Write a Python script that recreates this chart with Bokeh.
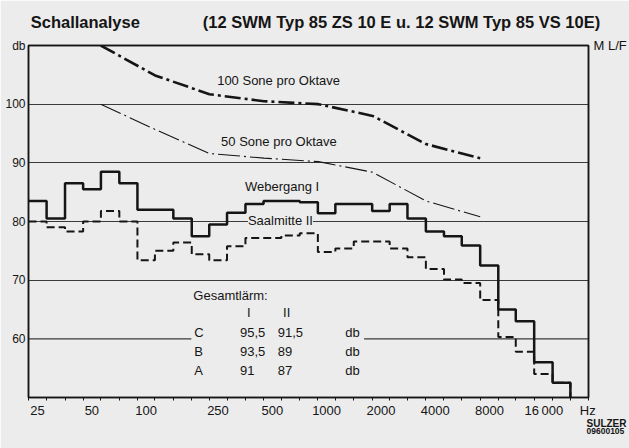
from bokeh.plotting import figure
from bokeh.models import FixedTicker, Label, Range1d, LogAxis, LinearAxis, Title
from bokeh.embed import file_html
from bokeh.resources import INLINE

# ---------------- data ----------------
bands = [25, 31.5, 40, 50, 63, 80, 100, 125, 160, 200, 250, 315, 400, 500, 630, 800,
         1000, 1250, 1600, 2000, 2500, 3150, 4000, 5000, 6300, 8000, 10000, 12500, 16000, 20000]
webergang = [83.5, 80.5, 86.5, 85.5, 88.5, 86.5, 82.0, 82.0, 80.5, 77.5, 79.5, 81.5, 83.0, 83.5, 83.5, 83.3,
             81.4, 83.0, 83.0, 81.8, 83.0, 80.5, 78.3, 77.5, 75.9, 72.5, 65.0, 63.0, 56.0, 52.5]
saalmitte = [80.0, 79.0, 78.3, 80.0, 81.8, 80.0, 73.4, 75.0, 76.4, 74.4, 73.4, 75.8, 77.2, 77.2, 77.6, 78.0,
             74.8, 75.4, 76.6, 76.6, 75.4, 73.9, 71.9, 70.1, 69.5, 66.6, 60.3, 57.8, 54.0, 52.5]

sone_hz = [56, 112, 224, 450, 900, 1800, 3550, 7100]
sone100 = [110.0, 104.9, 101.7, 100.5, 100.0, 98.0, 93.2, 90.8]
sone50 = [100.0, 95.7, 91.6, 90.8, 90.2, 88.4, 83.5, 80.8]

tick_hz = [25, 50, 100, 250, 500, 1000, 2000, 4000, 8000, 16000]
tick_text = ["25", "50", "100", "250", "500", "1000", "2000", "4000", "8000", "16\u2009000"]
db_ticks = [60, 70, 80, 90, 100]

title_left = "Schallanalyse"
title_right = "(12 SWM Typ 85 ZS 10 E u. 12 SWM Typ 85 VS 10E)"

gl_rows = ["C", "B", "A"]
gl_I = ["95,5", "93,5", "91"]
gl_II = ["91,5", "89", "87"]

# ---------------- figure ----------------
FONT = "Liberation Sans"
INK = "#151515"
BG = "#ececec"

xr0 = bands[0] * 2 ** (-1 / 6)
xr1 = bands[-1] * 2 ** (1 / 6) * 2 ** (1 / 3)
yr0, yr1 = 50, 110

p = figure(width=629, height=448, x_axis_type="log",
           x_range=Range1d(xr0, xr1), y_range=Range1d(yr0, yr1),
           output_backend="svg", toolbar_location=None,
           min_border_left=28, min_border_right=37, min_border_top=45, min_border_bottom=51)
p.background_fill_color = BG
p.border_fill_color = BG
p.outline_line_color = INK
p.outline_line_width = 1.5


def X(px):
    return xr0 * (xr1 / xr0) ** ((px - 28.0) / 564.0)


def Y(py):
    return 110.0 - (py - 45.0) * 60.0 / 352.0


# bottom axis
edges = [bands[0] * 2 ** (-1 / 6)] + [(bands[i] * bands[i + 1]) ** 0.5 for i in range(len(bands) - 1)] \
        + [bands[-1] * 2 ** (1 / 6), xr1]
hz_pos = 28000
p.xaxis.ticker = FixedTicker(ticks=tick_hz + [hz_pos], minor_ticks=edges)
ov = {t: s for t, s in zip(tick_hz, tick_text)}
ov[hz_pos] = "Hz"
p.xaxis.major_label_overrides = ov
p.xaxis.major_tick_out = 0
p.xaxis.major_tick_in = 0
p.xaxis.minor_tick_out = 3
p.xaxis.minor_tick_in = 0
p.xaxis.minor_tick_line_color = INK
p.xaxis.major_label_standoff = 2
p.xaxis.major_label_text_font = FONT
p.xaxis.major_label_text_font_size = "13px"
p.xaxis.major_label_text_color = INK
p.xaxis.axis_line_color = INK
p.xaxis.axis_line_width = 1.5

# left axis (the "db" unit sits at the top tick)
p.yaxis.ticker = FixedTicker(ticks=db_ticks + [yr1], minor_ticks=[])
p.yaxis.major_label_overrides = {yr1: "db"}
p.yaxis.major_tick_out = 0
p.yaxis.major_tick_in = 0
p.yaxis.major_label_standoff = 3
p.yaxis.major_label_text_font = FONT
p.yaxis.major_label_text_font_size = "12px"
p.yaxis.major_label_text_color = INK
p.yaxis.axis_line_color = INK
p.yaxis.axis_line_width = 1.5

# top axis carries the heading
t_left, t_right = 46, 2600
top = LogAxis(ticker=FixedTicker(ticks=[t_left, t_right], minor_ticks=[]),
              major_label_overrides={t_left: title_left, t_right: title_right},
              major_tick_out=0, major_tick_in=0, major_label_standoff=15,
              major_label_text_font=FONT, major_label_text_font_size="16.5px",
              major_label_text_font_style="bold", major_label_text_color=INK,
              axis_line_color=INK, axis_line_width=1.5)
p.add_layout(top, "above")

# right axis: frame edge and the "M L/F" mark
right = LinearAxis(ticker=FixedTicker(ticks=[yr1], minor_ticks=[]),
                   major_label_overrides={yr1: "M L/F"},
                   major_tick_out=0, major_tick_in=0, major_label_standoff=5,
                   major_label_text_font=FONT, major_label_text_font_size="13px",
                   major_label_text_color=INK, axis_line_color=INK, axis_line_width=1.5)
p.add_layout(right, "right")

# maker's mark below the axis
for txt, size, so in [("SULZER", "10px", -10), ("09600105", "8.5px", 4)]:
    p.add_layout(Title(text=txt, align="left", offset=558, standoff=so, text_font=FONT,
                       text_font_size=size, text_font_style="bold", text_color=INK), "below")

p.xgrid.visible = False
p.ygrid.ticker = FixedTicker(ticks=[t for t in db_ticks if t != 60])
p.ygrid.grid_line_color = "#3a3a3a"
p.ygrid.grid_line_width = 1.2

# 60 dB grid line, interrupted by the Gesamtlärm table
p.segment(x0=[xr0, X(366)], y0=[60, 60], x1=[X(192), xr1], y1=[60, 60],
          line_color="#3a3a3a", line_width=1.2)


def step_path(values):
    xs, ys = [], []
    for i, v in enumerate(values):
        xs += [edges[i], edges[i + 1]]
        ys += [v, v]
    xs.append(edges[len(values)])
    ys.append(yr0)
    return xs, ys


sx, sy = step_path(saalmitte)
p.line(sx, sy, line_color=INK, line_width=2.0, line_dash="8 4")
wx, wy = step_path(webergang)
p.line(wx, wy, line_color=INK, line_width=2.5)

p.line(sone_hz, sone100, line_color=INK, line_width=2.6, line_dash="16 4 3 4")
p.line(sone_hz, sone50, line_color=INK, line_width=1.1, line_dash="22 4 2 4")


def lab(px, py, text, size="13px", align="left", bg=None):
    kw = dict(x=X(px), y=Y(py), text=text, text_font=FONT, text_font_size=size,
              text_color=INK, text_align=align, text_baseline="middle")
    if bg is not None:
        kw["background_fill_color"] = bg
    p.add_layout(Label(**kw))


lab(218, 80, "100 Sone pro Oktave")
lab(222, 141, "50 Sone pro Oktave")
lab(246, 186, "Webergang I")
lab(249, 220, "Saalmitte II", bg=BG)

lab(194, 295, "Gesamtlärm:")
lab(250, 312, "I", align="center")
lab(288, 312, "II", align="center")
for k, (r, a, b) in enumerate(zip(gl_rows, gl_I, gl_II)):
    yy = 332 + 19 * k
    lab(195, yy, r)
    lab(241, yy, a)
    lab(279, yy, b)
    lab(347, yy, "db")

open("out.html", "w").write(file_html(p, INLINE))
